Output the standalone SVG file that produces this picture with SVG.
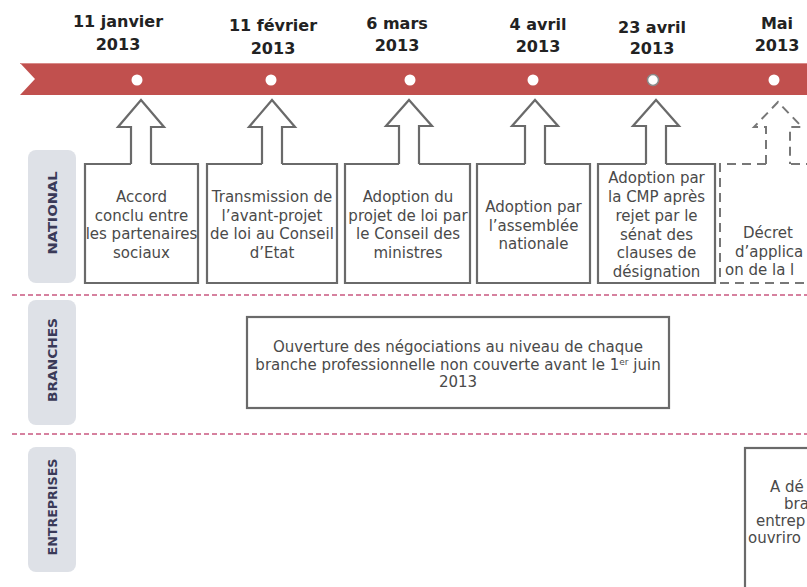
<svg xmlns="http://www.w3.org/2000/svg" width="807" height="587" viewBox="0 0 807 587">
<style>
.date{font-family:"DejaVu Sans",sans-serif;font-weight:bold;font-size:16px;fill:#222;text-anchor:middle}
.box{fill:#fff;stroke:#6a6a6a;stroke-width:2.2;stroke-linejoin:miter}
.dash{fill:none;stroke:#777;stroke-width:2;stroke-dasharray:9,6}
.arrow{fill:#fff;stroke:#6a6a6a;stroke-width:2.2;stroke-linejoin:miter}
.txt{font-family:"DejaVu Sans",sans-serif;font-size:15px;fill:#4a4a4a;text-anchor:middle}
.txs{font-family:"DejaVu Sans",sans-serif;font-size:15px;fill:#4a4a4a}
.pill{fill:#dee1e7}
.lane{font-family:"DejaVu Sans",sans-serif;font-weight:bold;font-size:13px;fill:#3a3a58;text-anchor:middle}
.sep{stroke:#d6819f;stroke-width:2;stroke-dasharray:5,3}
.dot{fill:#fff}
</style>
<rect width="807" height="587" fill="#fff"/>

<g id="timeline">
  <polygon points="20,63 807,63 807,95 20,95 35,79" fill="#c1504e"/>
  <line x1="20" y1="63.5" x2="807" y2="63.5" stroke="#d88a88" stroke-width="1"/>
  <circle class="dot" cx="137" cy="80" r="5.5"/>
  <circle class="dot" cx="271" cy="80" r="5.5"/>
  <circle class="dot" cx="410" cy="80" r="5.5"/>
  <circle class="dot" cx="533" cy="80" r="5.5"/>
  <circle class="dot" cx="653" cy="80" r="5.5" stroke="#8a8a8a" stroke-width="1.5"/>
  <circle class="dot" cx="774" cy="80" r="5.5"/>
</g>

<g id="dates">
  <text class="date" x="118" y="27">11 janvier</text>
  <text class="date" x="118" y="50">2013</text>
  <text class="date" x="273" y="31">11 février</text>
  <text class="date" x="273" y="54">2013</text>
  <text class="date" x="397" y="29">6 mars</text>
  <text class="date" x="397" y="51">2013</text>
  <text class="date" x="538" y="30">4 avril</text>
  <text class="date" x="538" y="52">2013</text>
  <text class="date" x="652" y="33">23 avril</text>
  <text class="date" x="652" y="54">2013</text>
  <text class="date" x="777" y="29">Mai</text>
  <text class="date" x="777" y="51">2013</text>
</g>

<g id="lanes">
  <line class="sep" x1="12" y1="295" x2="807" y2="295"/>
  <line class="sep" x1="12" y1="434" x2="807" y2="434"/>
  <rect class="pill" x="28" y="150" width="48" height="133" rx="8"/>
  <text class="lane" transform="translate(57,213) rotate(-90)" textLength="83" lengthAdjust="spacingAndGlyphs">NATIONAL</text>
  <rect class="pill" x="28" y="300" width="48" height="125" rx="8"/>
  <text class="lane" transform="translate(57,360) rotate(-90)" textLength="84" lengthAdjust="spacingAndGlyphs">BRANCHES</text>
  <rect class="pill" x="28" y="447" width="48" height="125" rx="8"/>
  <text class="lane" transform="translate(57,507) rotate(-90)" textLength="97" lengthAdjust="spacingAndGlyphs">ENTREPRISES</text>
</g>

<g id="connectors">
  <polyline class="arrow" points="131,164 131,127 118,127 141,100 164,127 151,127 151,164"/>
  <polyline class="arrow" points="262,164 262,127 249,127 272,100 295,127 282,127 282,164"/>
  <polyline class="arrow" points="399,164 399,126 386,126 409,100 432,126 419,126 419,164"/>
  <polyline class="arrow" points="525,164 525,126 512,126 535,100 558,126 545,126 545,164"/>
  <polyline class="arrow" points="646,164 646,126 633,126 656,100 679,126 666,126 666,164"/>
  <polyline class="dash" points="766,164 766,127 754,127 778,102 802,127 790,127 790,164"/>
</g>

<g id="n1">
  <path class="box" d="M131,164 H85 V283 H198 V164 H151"/>
  <text class="txt" x="141.5" y="202">Accord</text>
  <text class="txt" x="141.5" y="220.5">conclu entre</text>
  <text class="txt" x="141.5" y="239">les partenaires</text>
  <text class="txt" x="141.5" y="258">sociaux</text>
</g>
<g id="n2">
  <path class="box" d="M262,164 H207 V283 H337 V164 H282"/>
  <text class="txt" x="272" y="202">Transmission de</text>
  <text class="txt" x="272" y="220.5">l’avant-projet</text>
  <text class="txt" x="272" y="239">de loi au Conseil</text>
  <text class="txt" x="272" y="258">d’Etat</text>
</g>
<g id="n3">
  <path class="box" d="M399,164 H345 V283 H470 V164 H419"/>
  <text class="txt" x="408" y="202">Adoption du</text>
  <text class="txt" x="408" y="220.5">projet de loi par</text>
  <text class="txt" x="408" y="239">le Conseil des</text>
  <text class="txt" x="408" y="258">ministres</text>
</g>
<g id="n4">
  <path class="box" d="M525,164 H477 V283 H590 V164 H545"/>
  <text class="txt" x="533.5" y="212">Adoption par</text>
  <text class="txt" x="533.5" y="231">l’assemblée</text>
  <text class="txt" x="533.5" y="249">nationale</text>
</g>
<g id="n5">
  <path class="box" d="M646,164 H598 V283 H715 V164 H666"/>
  <text class="txt" x="656.5" y="183">Adoption par</text>
  <text class="txt" x="656.5" y="202">la CMP après</text>
  <text class="txt" x="656.5" y="220.5">rejet par le</text>
  <text class="txt" x="656.5" y="239.5">sénat des</text>
  <text class="txt" x="656.5" y="258">clauses de</text>
  <text class="txt" x="656.5" y="277">désignation</text>
</g>
<g id="n6">
  <path class="dash" d="M766,164 H720 V283 H815 M815,164 H790"/>
  <text class="txs" x="743" y="238">Décret</text>
  <text class="txs" x="735" y="257">d’applica</text>
  <text class="txs" x="725" y="275">on de la l</text>
</g>
<g id="n7">
  <rect class="box" x="247" y="317" width="422" height="91"/>
  <text class="txt" x="458" y="352" font-size="14.5">Ouverture des négociations au niveau de chaque</text>
  <text class="txt" x="458" y="370" font-size="14.5">branche professionnelle non couverte avant le 1<tspan font-size="9" baseline-shift="super">er</tspan> juin</text>
  <text class="txt" x="458" y="387" font-size="14.5">2013</text>
</g>
<g id="n8">
  <rect class="box" x="745" y="448" width="80" height="160"/>
  <text class="txs" x="770" y="492" font-size="12.5">A dé</text>
  <text class="txs" x="784" y="509" font-size="12.5">bra</text>
  <text class="txs" x="756" y="526" font-size="12.5">entrep</text>
  <text class="txs" x="748" y="543" font-size="12.5">ouvriro</text>
</g>
</svg>
